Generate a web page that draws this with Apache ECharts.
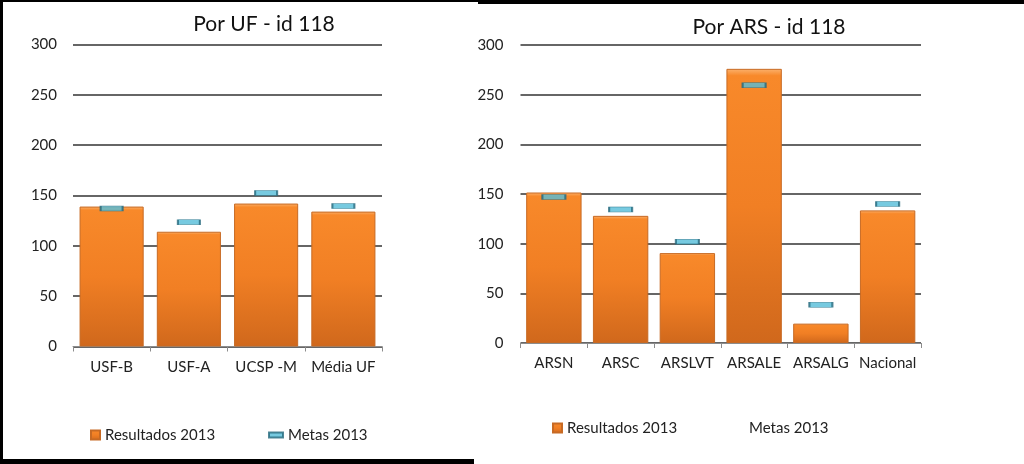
<!DOCTYPE html>
<html>
<head>
<meta charset="utf-8">
<script src="https://cdn.jsdelivr.net/npm/echarts@6/dist/echarts.min.js"></script>
<style>
  html, body { margin: 0; padding: 0; background: #fff; }
  #chart { width: 1024px; height: 464px; }
</style>
</head>
<body>
<div id="chart"></div>
<script>
// Por UF
const ufCategorias = ['USF-B', 'USF-A', 'UCSP -M', 'Média UF'];
const ufResultados = [139, 114, 142, 134];
const ufMetas = [137, 123.5, 152.5, 139.5];

// Por ARS
const arsCategorias = ['ARSN', 'ARSC', 'ARSLVT', 'ARSALE', 'ARSALG', 'Nacional'];
const arsResultados = [151.5, 128, 90.5, 276, 19.5, 133.5];
const arsMetas = [147, 134.5, 102, 259.5, 38.5, 140];

const yTicks = [0, 50, 100, 150, 200, 250, 300];

const fonte = 'Lato, "Open Sans", sans-serif';

// cor das barras laranja
const barraLaranja = {
    type: 'linear', x: 0, y: 0, x2: 0, y2: 1,
    colorStops: [
        { offset: 0, color: '#fbb26e' },
        { offset: 0.025, color: '#f8892a' },
        { offset: 0.5, color: '#f17f24' },
        { offset: 1, color: '#d0681c' }
    ]
};
const marcaMeta = {
    color: '#55bdd8',
    borderColor: '#24687c',
    borderWidth: 1
};

function eixoY(gridIndex, margem) {
    return {
        type: 'value',
        gridIndex: gridIndex,
        min: yTicks[0],
        max: yTicks[yTicks.length - 1],
        interval: 50,
        axisLine: { show: false },
        axisTick: { show: false },
        axisLabel: { color: '#222', fontSize: 15, fontFamily: fonte, margin: margem },
        splitLine: { lineStyle: { color: '#333', width: 1.5 } }
    };
}

function eixoX(gridIndex, dados) {
    return {
        type: 'category',
        gridIndex: gridIndex,
        data: dados,
        axisLine: { lineStyle: { color: '#8c8c8c', width: 1 } },
        axisTick: { show: true, length: 5, interval: 0, lineStyle: { color: '#8c8c8c' } },
        axisLabel: {
            color: '#222', fontSize: 15, fontFamily: fonte, margin: 13,
            interval: 0, hideOverlap: false
        }
    };
}

const chart = echarts.init(document.getElementById('chart'));

const option = {
    backgroundColor: '#fff',
    animation: false,
    title: [
        {
            text: 'Por UF - id 118', left: 259, top: 9, textAlign: 'center',
            textStyle: { fontSize: 21, fontWeight: 'normal', color: '#111', fontFamily: fonte }
        },
        {
            text: 'Por ARS - id 118', left: 764, top: 12, textAlign: 'center',
            textStyle: { fontSize: 21, fontWeight: 'normal', color: '#111', fontFamily: fonte }
        }
    ],
    legend: [
        {
            left: 85, top: 421, itemWidth: 9, itemHeight: 9, icon: 'rect',
            data: ['Resultados 2013'],
            textStyle: { fontSize: 15, color: '#222', fontFamily: fonte, lineHeight: 18 }
        },
        {
            left: 263, top: 421, itemWidth: 14, itemHeight: 5, icon: 'rect',
            data: ['Metas 2013'],
            textStyle: { fontSize: 15, color: '#222', fontFamily: fonte, lineHeight: 18 }
        },
        {
            left: 547, top: 414, itemWidth: 9, itemHeight: 9, icon: 'rect',
            data: ['Resultados 2013'],
            textStyle: { fontSize: 15, color: '#222', fontFamily: fonte, lineHeight: 18 }
        },
        {
            left: 729, top: 414, itemWidth: 10, itemHeight: 5, icon: 'rect',
            data: [{ name: 'Metas 2013', itemStyle: { color: 'rgba(0,0,0,0)', borderWidth: 0 } }],
            textStyle: { fontSize: 15, color: '#222', fontFamily: fonte, lineHeight: 18 }
        }
    ],
    grid: [
        { left: 73, top: 44.5, width: 309, height: 302 },
        { left: 520.5, top: 45, width: 400.5, height: 298 }
    ],
    xAxis: [eixoX(0, ufCategorias), eixoX(1, arsCategorias)],
    yAxis: [eixoY(0, 16), eixoY(1, 17)],
    series: [
        {
            name: 'Resultados 2013', type: 'bar', xAxisIndex: 0, yAxisIndex: 0,
            data: ufResultados, barWidth: '83%',
            itemStyle: { color: barraLaranja, borderColor: '#c76a24', borderWidth: 1 }
        },
        {
            name: 'Metas 2013', type: 'scatter', xAxisIndex: 0, yAxisIndex: 0,
            data: ufMetas, symbol: 'rect', symbolSize: [22, 5], z: 5,
            itemStyle: marcaMeta
        },
        {
            name: 'Resultados 2013', type: 'bar', xAxisIndex: 1, yAxisIndex: 1,
            data: arsResultados, barWidth: '83%',
            itemStyle: { color: barraLaranja, borderColor: '#c76a24', borderWidth: 1 }
        },
        {
            name: 'Metas 2013', type: 'scatter', xAxisIndex: 1, yAxisIndex: 1,
            data: arsMetas, symbol: 'rect', symbolSize: [23, 5], z: 5,
            itemStyle: marcaMeta
        }
    ],
    // moldura preta da imagem original
    graphic: [
        { type: 'rect', shape: { x: 0, y: 0, width: 3, height: 464 }, style: { fill: '#000' } },
        { type: 'rect', shape: { x: 0, y: 0, width: 478, height: 2 }, style: { fill: '#000' } },
        { type: 'rect', shape: { x: 478, y: 0, width: 546, height: 4 }, style: { fill: '#000' } },
        { type: 'rect', shape: { x: 0, y: 459, width: 474, height: 5 }, style: { fill: '#000' } }
    ]
};

chart.setOption(option);
</script>
</body>
</html>
